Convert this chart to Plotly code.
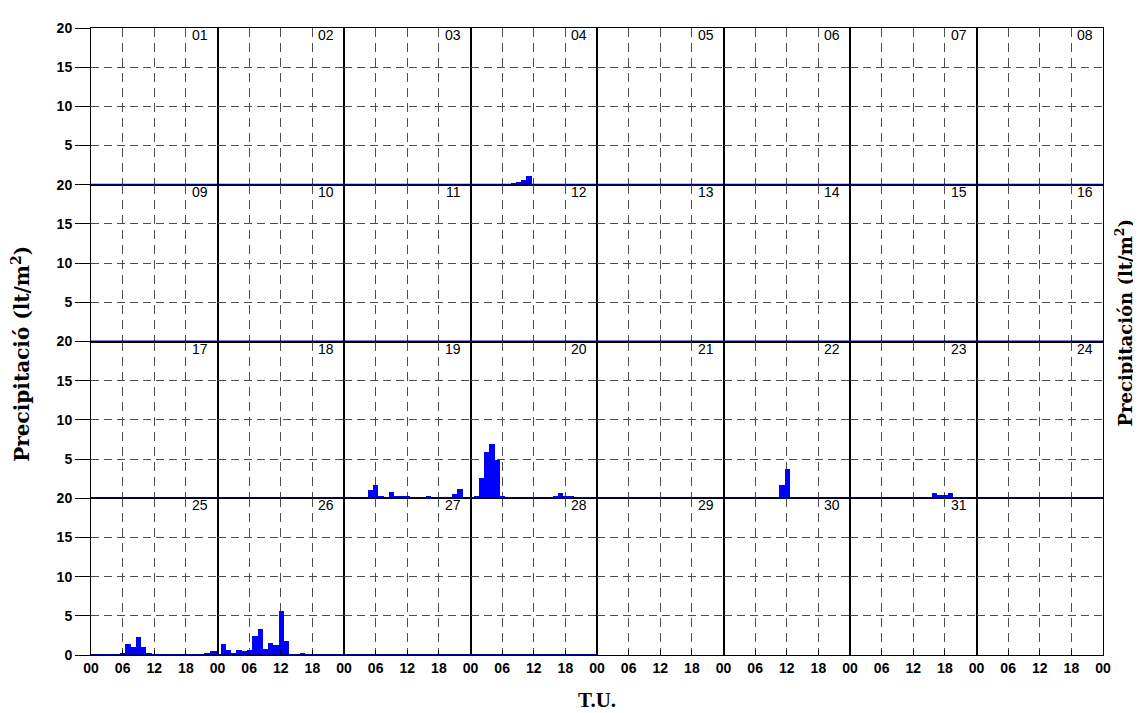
import plotly.graph_objects as go
from plotly.subplots import make_subplots

# ---------------- data ----------------
hours = list(range(1, 25))              # hourly totals, hour ending 01..24 (T.U.)
days = list(range(1, 32))               # days of the month
last_day_with_data = 28                 # days after this one have no record
x_tick_vals = [0, 6, 12, 18, 24]
x_tick_text = ["00", "06", "12", "18", "00"]
y_tick_vals = [0, 5, 10, 15, 20]
y_tick_text = ["0", "5", "10", "15", "20"]

# precipitation (lt/m2) per hour, only for days with rain
day04 = [0, 0, 0, 0, 0, 0, 0, 0.25, 0.35, 0.55, 1.1, 0, 0, 0, 0, 0, 0, 0, 0, 0, 0, 0, 0, 0]
day19 = [0, 0, 0, 0.1, 1.1, 1.8, 0.35, 0.1, 0.85, 0.3, 0.3, 0.3, 0.1, 0.1, 0.2, 0.3, 0, 0, 0, 0, 0.6, 1.2, 0.2, 0.2]
day20 = [0.3, 2.7, 6.0, 7.0, 5.0, 0.4, 0.2, 0.1, 0.1, 0, 0, 0, 0.1, 0, 0, 0.4, 0.7, 0.3, 0.35, 0, 0, 0, 0, 0]
day21 = [0.1, 0.1, 0, 0, 0, 0, 0, 0, 0, 0, 0, 0, 0, 0, 0, 0, 0, 0, 0, 0, 0, 0, 0, 0]
day22 = [0, 0, 0, 0, 0, 0, 0, 0, 0, 0.2, 1.8, 3.8, 0.15, 0, 0, 0, 0, 0, 0, 0, 0, 0, 0, 0]
day23 = [0, 0, 0, 0, 0, 0, 0, 0, 0, 0, 0, 0, 0, 0, 0.25, 0.7, 0.5, 0.5, 0.7, 0.15, 0, 0, 0, 0]
day25 = [0, 0, 0, 0, 0, 0.15, 1.35, 0.95, 2.25, 1.05, 0.1, 0, 0, 0, 0, 0, 0, 0, 0, 0, 0, 0.1, 0.42, 0.42]
day26 = [1.35, 0.55, 0.15, 0.6, 0.45, 0.6, 2.4, 3.3, 0.75, 1.5, 1.2, 5.6, 1.7, 0, 0, 0.1, 0, 0, 0, 0, 0, 0, 0, 0]

rain_by_day = {4: day04, 19: day19, 20: day20, 21: day21, 22: day22,
               23: day23, 25: day25, 26: day26}
zero_day = [0] * 24

# ---------------- styling ----------------
N_ROWS, N_COLS = 4, 8
BAR_COLOR = "#0000FF"
BASE_COLOR = "#000099"
GRID_COLOR = "#4d4d4d"
TICK_FONT = dict(family="Arial", size=14, color="black", weight="bold")

fig = make_subplots(rows=N_ROWS, cols=N_COLS, horizontal_spacing=0, vertical_spacing=0)

for d in days:
    r, c = divmod(d - 1, N_COLS)
    vals = rain_by_day.get(d, zero_day)
    fig.add_trace(go.Bar(x=hours, y=vals, width=1, marker=dict(color=BAR_COLOR, line=dict(width=0)),
                         hoverinfo="x+y", showlegend=False), row=r + 1, col=c + 1)

# empty panels (no day) still need their axes drawn
for k in range(len(days), N_ROWS * N_COLS):
    r, c = divmod(k, N_COLS)
    fig.add_trace(go.Scatter(x=[None], y=[None], mode="lines", showlegend=False,
                             hoverinfo="skip"), row=r + 1, col=c + 1)

for r in range(N_ROWS):
    for c in range(N_COLS):
        bottom = r == N_ROWS - 1
        left = c == 0
        last_col = c == N_COLS - 1
        nx = len(x_tick_vals) if last_col else len(x_tick_vals) - 1
        fig.update_xaxes(row=r + 1, col=c + 1, range=[0, 24],
                         tickmode="array", tickvals=x_tick_vals[:nx], ticktext=x_tick_text[:nx],
                         showticklabels=bottom, ticks="inside" if bottom else "", ticklen=5,
                         tickcolor="black", tickfont=TICK_FONT,
                         showgrid=True, gridcolor=GRID_COLOR, griddash="9px,6px", gridwidth=1,
                         showline=True, linecolor="black", linewidth=1, mirror=True,
                         zeroline=False, fixedrange=True)
        ys = 0 if bottom else 1
        fig.update_yaxes(row=r + 1, col=c + 1, range=[0, 20],
                         tickmode="array", tickvals=y_tick_vals[ys:], ticktext=y_tick_text[ys:],
                         showticklabels=left, ticks="outside" if left else "", ticklen=15,
                         tickcolor="black", tickfont=TICK_FONT,
                         showgrid=True, gridcolor=GRID_COLOR, griddash="8px,5px", gridwidth=1,
                         showline=True, linecolor="black", linewidth=1, mirror=True,
                         zeroline=False, fixedrange=True)

# blue baseline for days that have a record, and day numbers
for d in days:
    r, c = divmod(d - 1, N_COLS)
    n = r * N_COLS + c + 1
    sfx = "" if n == 1 else str(n)
    if d <= last_day_with_data:
        fig.add_shape(type="line", xref=f"x{sfx} domain", yref=f"y{sfx}",
                      x0=0, x1=1, y0=0, y1=0, layer="above",
                      line=dict(color=BASE_COLOR, width=2))
    fig.add_annotation(text=f"{d:02d}", xref=f"x{sfx} domain", yref=f"y{sfx} domain",
                       x=1, y=1, xanchor="right", yanchor="top", xshift=-8, yshift=3,
                       showarrow=False, font=dict(family="Arial", size=14, color="black"))

# axis titles
fig.add_annotation(text="<b>Precipitació (lt/m<sup>2</sup>)</b>", xref="paper", yref="paper",
                   x=-0.0695, y=0.48, xanchor="center", yanchor="middle", textangle=-90,
                   showarrow=False, font=dict(family="DejaVu Serif", size=20, color="black"))
fig.add_annotation(text="<b>Precipitación (lt/m<sup>2</sup>)</b>", xref="paper", yref="paper",
                   x=1.0205, y=0.53, xanchor="center", yanchor="middle", textangle=-90,
                   showarrow=False, font=dict(family="DejaVu Serif", size=18, color="black"))
fig.add_annotation(text="<b>T.U.</b>", xref="paper", yref="paper",
                   x=0.5, y=-0.071, xanchor="center", yanchor="middle",
                   showarrow=False, font=dict(family="Liberation Serif", size=21, color="black"))

# the page adds an 8px body margin, so the figure is sized 8px smaller
fig.update_layout(width=1133, height=705, margin=dict(l=83, r=38, t=12, b=58),
                  paper_bgcolor="white", plot_bgcolor="white", showlegend=False,
                  bargap=0)

fig.write_html("out.html")
